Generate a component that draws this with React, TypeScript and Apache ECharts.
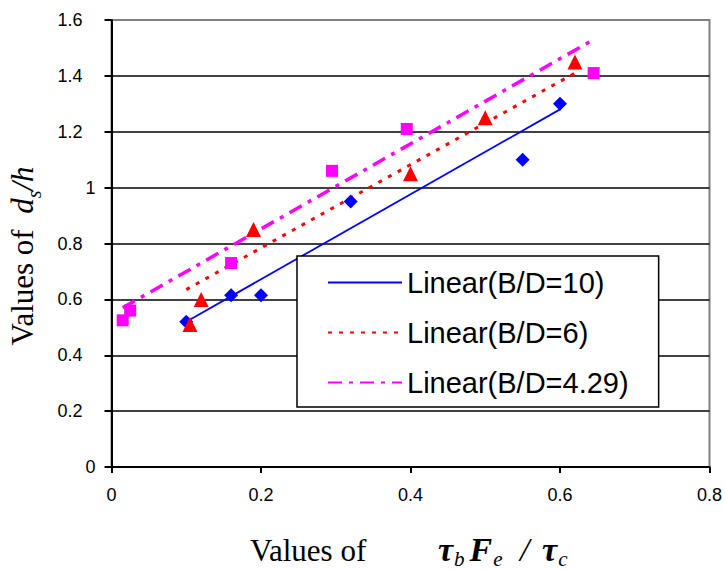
import React, { useEffect, useRef } from "react";
import * as echarts from "echarts";

// Measured points (x = τb·Fe/τc, y = ds/h)
const bd10X = [0.1, 0.16, 0.2, 0.32, 0.55, 0.6];
const bd10Y = [0.52, 0.615, 0.615, 0.95, 1.1, 1.3];
const bd6X = [0.105, 0.12, 0.19, 0.4, 0.5, 0.62];
const bd6Y = [0.51, 0.6, 0.85, 1.05, 1.25, 1.45];
const bd429X = [0.015, 0.025, 0.16, 0.295, 0.395, 0.645];
const bd429Y = [0.525, 0.56, 0.73, 1.06, 1.21, 1.41];

// Linear trend lines (end points)
const trend10X = [0.1, 0.6];
const trend10Y = [0.52, 1.28];
const trend6X = [0.1, 0.62];
const trend6Y = [0.635, 1.41];
const trend429X = [0.015, 0.645];
const trend429Y = [0.57, 1.53];

const legendNames = ["Linear(B/D=10)", "Linear(B/D=6)", "Linear(B/D=4.29)"];
const xAxisMin = 0;
const xAxisMax = 0.8;
const xAxisStep = 0.2;
const yAxisMin = 0;
const yAxisMax = 1.6;
const yAxisStep = 0.2;

const pairs = (xs: number[], ys: number[]) => xs.map((x, i) => [x, ys[i]]);

const SANS = "'Liberation Sans', Arial, sans-serif";
const SERIF = "'Liberation Serif', 'Times New Roman', serif";

export default function App() {
  const ref = useRef<HTMLDivElement>(null);

  useEffect(() => {
    if (!ref.current) return;
    const chart = echarts.init(ref.current, null, { renderer: "svg" });
    const option: any = {
      animation: false,
      backgroundColor: "#ffffff",
      grid: {
        left: 111.5,
        right: 13.5,
        top: 20,
        bottom: 103,
        show: true,
        borderColor: "#808080",
        borderWidth: 2,
      },
      legend: {
        data: legendNames,
        orient: "vertical",
        left: 297,
        top: 256,
        padding: [12, 30, 10, 30],
        itemWidth: 74,
        itemHeight: 14,
        itemGap: 21,
        backgroundColor: "#ffffff",
        borderColor: "#000000",
        borderWidth: 1.5,
        borderRadius: 0,
        itemStyle: { opacity: 0 },
        textStyle: { fontFamily: SANS, fontSize: 29, color: "#000000" },
        selectedMode: false,
      },
      xAxis: {
        type: "value",
        min: xAxisMin,
        max: xAxisMax,
        interval: xAxisStep,
        axisLine: { show: true, onZero: false, lineStyle: { color: "#000", width: 2 } },
        axisTick: { show: true, length: 6, lineStyle: { color: "#000", width: 2 } },
        axisLabel: {
          margin: 19,
          fontFamily: SANS,
          fontSize: 18,
          color: "#000",
          formatter: (v: number) => String(Math.round(v * 10) / 10),
        },
        splitLine: { show: false },
      },
      yAxis: {
        type: "value",
        min: yAxisMin,
        max: yAxisMax,
        interval: yAxisStep,
        axisLine: { show: true, onZero: false, lineStyle: { color: "#000", width: 2 } },
        axisTick: { show: true, length: 7, lineStyle: { color: "#000", width: 2 } },
        axisLabel: {
          margin: 16,
          fontFamily: SANS,
          fontSize: 18,
          color: "#000",
          formatter: (v: number) => {
            const s = String(Math.round(v * 10) / 10);
            return Number.isInteger(Math.round(v * 10) / 10) ? `{i|${s}}` : `{d|${s}}`;
          },
          rich: {
            i: { fontFamily: SANS, fontSize: 18, color: "#000" },
            d: { fontFamily: SANS, fontSize: 18, color: "#000", padding: [0, 13, 0, 0] },
          },
        },
        splitLine: {
          show: true,
          showMinLine: false,
          showMaxLine: false,
          lineStyle: { color: "#000", width: 1.5 },
        },
      },
      series: [
        {
          name: legendNames[0],
          type: "line",
          data: pairs(trend10X, trend10Y),
          symbol: "none",
          lineStyle: { color: "#0000ff", width: 1.8, type: "solid" },
          itemStyle: { color: "#0000ff" },
          z: 2,
        },
        {
          name: legendNames[1],
          type: "line",
          data: pairs(trend6X, trend6Y),
          symbol: "none",
          lineStyle: { color: "#ff0000", width: 3, type: [4, 7] },
          itemStyle: { color: "#ff0000" },
          z: 2,
        },
        {
          name: legendNames[2],
          type: "line",
          data: pairs(trend429X, trend429Y),
          symbol: "none",
          lineStyle: { color: "#ff00ff", width: 3.5, type: [14, 7, 4, 7] },
          itemStyle: { color: "#ff00ff" },
          z: 2,
        },
        {
          name: "B/D=10",
          type: "scatter",
          data: pairs(bd10X, bd10Y),
          symbol: "diamond",
          symbolSize: 14,
          itemStyle: { color: "#0000ff", opacity: 1 },
          z: 3,
        },
        {
          name: "B/D=6",
          type: "scatter",
          data: pairs(bd6X, bd6Y),
          symbol: "triangle",
          symbolSize: [15, 15],
          itemStyle: { color: "#ff0000", opacity: 1 },
          z: 3,
        },
        {
          name: "B/D=4.29",
          type: "scatter",
          data: pairs(bd429X, bd429Y),
          symbol: "rect",
          symbolSize: 12,
          itemStyle: { color: "#ff00ff", opacity: 1 },
          z: 3,
        },
      ],
      graphic: [
        {
          type: "text",
          x: 7,
          y: 256,
          rotation: Math.PI / 2,
          style: {
            text: "{r|Values of  }{it|d}{sub|s}{it|/h}",
            align: "center",
            verticalAlign: "top",
            rich: {
              r: { fontFamily: SERIF, fontSize: 31, lineHeight: 31, verticalAlign: "top", fill: "#000" },
              it: { fontFamily: SERIF, fontStyle: "italic", fontSize: 31, lineHeight: 31, verticalAlign: "top", fill: "#000" },
              sub: { fontFamily: SERIF, fontStyle: "italic", fontSize: 20, lineHeight: 20, verticalAlign: "top", padding: [17, 0, 0, 0], fill: "#000" },
            },
          },
        },
        {
          type: "text",
          x: 250,
          y: 535,
          style: {
            text: "Values of",
            align: "left",
            verticalAlign: "top",
            fontFamily: SERIF,
            fontSize: 31,
            lineHeight: 31,
            fill: "#000",
          },
        },
        {
          type: "text",
          x: 438,
          y: 532,
          style: {
            text: "{m|τ}{sub|b}{m|F}{sub|e}{n| / }{m|τ}{sub|c}",
            align: "left",
            verticalAlign: "top",
            rich: {
              m: { fontFamily: SERIF, fontStyle: "italic", fontWeight: "bold", fontSize: 34, lineHeight: 34, verticalAlign: "top", fill: "#000" },
              n: { fontFamily: SERIF, fontStyle: "italic", fontSize: 34, lineHeight: 34, verticalAlign: "top", padding: [0, 4, 0, 4], fill: "#000" },
              sub: { fontFamily: SERIF, fontStyle: "italic", fontSize: 21, lineHeight: 21, verticalAlign: "top", padding: [16, 5, 0, 1], fill: "#000" },
            },
          },
        },
      ],
    };
    chart.setOption(option);
    return () => chart.dispose();
  }, []);

  return (
    <div
      ref={ref}
      style={{ position: "fixed", left: 0, top: 0, width: 725, height: 570, background: "#fff" }}
    />
  );
}
